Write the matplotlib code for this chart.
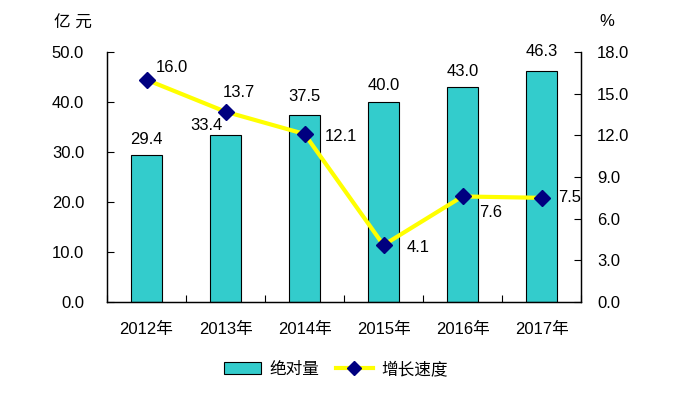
import matplotlib
matplotlib.use("Agg")
import matplotlib.pyplot as plt
import numpy as np
from matplotlib.lines import Line2D
from matplotlib.patches import Patch

plt.rcParams['font.family'] = ['Liberation Sans', 'Noto Sans CJK SC', 'DejaVu Sans']

years = ["2012年", "2013年", "2014年", "2015年", "2016年", "2017年"]
absolute = [29.4, 33.4, 37.5, 40.0, 43.0, 46.3]
growth = [16.0, 13.7, 12.1, 4.1, 7.6, 7.5]
left_ticks = [0, 10, 20, 30, 40, 50]
right_ticks = [0, 3, 6, 9, 12, 15, 18]

FS = 12
fig = plt.figure(figsize=(6.9, 3.94), dpi=100)
ax = fig.add_axes([107/690, 1-302/394, (581-107)/690, (302-52)/394])
ax2 = ax.twinx()

x = np.arange(len(years))
bar_color = "#33CCCC"
ax.bar(x, absolute, width=0.39, color=bar_color, edgecolor="black", linewidth=0.8, zorder=2)
ax.set_xlim(-0.5, len(years)-0.5)
ax.set_ylim(0, 50)
ax.set_yticks(left_ticks)
ax.set_yticklabels([f"{v:.1f}" for v in left_ticks], fontsize=FS)
ax.set_xticks(x)
ax.set_xticklabels(years, fontsize=FS)
ax.set_xticks(np.arange(len(years)+1)-0.5, minor=True)
ax.tick_params(axis='x', which='major', length=0, pad=14)
ax.tick_params(axis='x', which='minor', direction='in', length=5, width=0.8)
ax.tick_params(axis='y', direction='in', length=5, width=0.8, pad=16.5)
for s in ['top']:
    ax.spines[s].set_visible(False)
    ax2.spines[s].set_visible(False)
for s in ['left', 'bottom', 'right']:
    ax.spines[s].set_linewidth(0.9)
    ax2.spines[s].set_linewidth(0.9)

# label offsets: (dx in categories, dy in value units)
bar_off = [(0, 3.0), (-0.24, 1.8), (0, 3.6), (0, 3.2), (0, 3.2), (0, 3.7)]
for xi, v, (dx, dy) in zip(x, absolute, bar_off):
    ax.text(xi + dx, v + dy, f"{v:.1f}", ha='center', va='center', fontsize=FS)

ax2.plot(x, growth, color="#FFFF00", linewidth=3, zorder=3,
         marker='D', markersize=8, markerfacecolor="#000080", markeredgecolor="#000080")
ax2.set_ylim(0, 18)
ax2.set_yticks(right_ticks)
ax2.set_yticklabels([f"{v:.1f}" for v in right_ticks], fontsize=FS)
ax2.tick_params(axis='y', direction='in', length=5, width=0.8, pad=11.5)

line_off = [(0.12, 0.85), (-0.04, 1.4), (0.26, -0.15), (0.29, -0.2), (0.21, -1.15), (0.21, 0.0)]
for xi, v, (dx, dy) in zip(x, growth, line_off):
    ax2.text(xi + dx, v + dy, f"{v:.1f}", ha='left', va='center', fontsize=FS)

fig.text(54/690, 1-23/394, "亿 元", fontsize=FS, va='center', ha='left')
fig.text(599/690, 1-22/394, "%", fontsize=FS, va='center', ha='left')

handles = [Patch(facecolor=bar_color, edgecolor='black', linewidth=0.8),
           Line2D([0], [0], color="#FFFF00", linewidth=3, marker='D', markersize=7,
                  markerfacecolor="#000080", markeredgecolor="#000080")]
fig.legend(handles, ["绝对量", "增长速度"], loc='center', bbox_to_anchor=(336/690, 1-369/394),
           ncol=2, frameon=False, fontsize=FS, handlelength=2.2, columnspacing=1.0, handletextpad=0.5)

fig.savefig("out.png", dpi=100)
